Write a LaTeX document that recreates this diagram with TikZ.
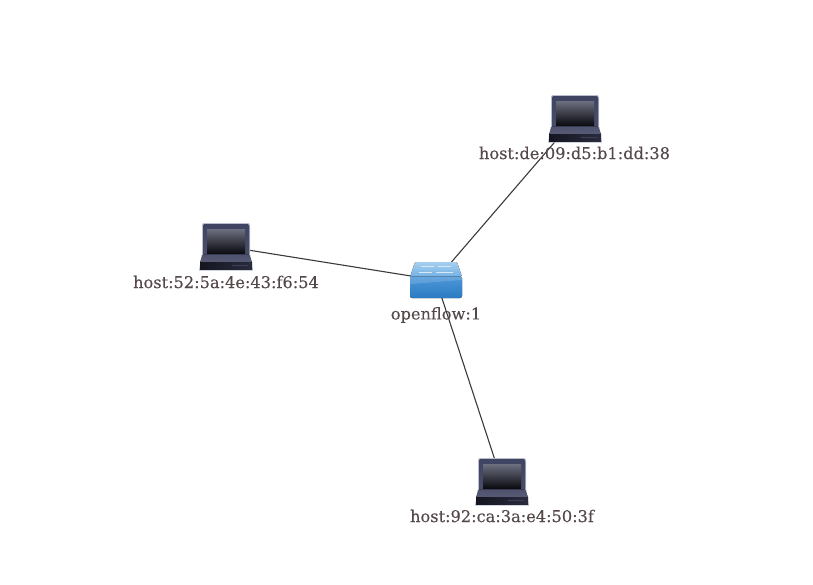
\documentclass[tikz,border=0pt]{standalone}
\usepackage{fontspec}
\setmainfont{DejaVu Serif}[FakeBold=0.15]
\usetikzlibrary{calc}
\definecolor{lbl}{HTML}{54484A}
\definecolor{edgec}{HTML}{3A3A3A}
\definecolor{scrA}{HTML}{3F4463}
\definecolor{scrB}{HTML}{4A4E68}
\definecolor{inA}{HTML}{6C6F7E}
\definecolor{inM}{HTML}{25262F}
\definecolor{inB}{HTML}{0C0C12}
\definecolor{baseA}{HTML}{50536E}
\definecolor{baseB}{HTML}{565A75}
\definecolor{feetA}{HTML}{14151F}
\definecolor{feetB}{HTML}{2A2C3F}
\definecolor{slot}{HTML}{3C3F55}
\definecolor{halo}{HTML}{B9BFD0}
\definecolor{topA}{HTML}{A6CFEF}
\definecolor{topB}{HTML}{74B0E2}
\definecolor{frA}{HTML}{4D97D8}
\definecolor{frB}{HTML}{2B7BC3}
\definecolor{arrowc}{HTML}{D5E9F8}
\tikzset{
  lab/.style={text=lbl,font=\fontsize{16.2}{18}\selectfont,inner sep=0pt,anchor=center},
  link/.style={draw=edgec,line width=1.1pt},
  pics/laptop/.style={code={
    \fill[rounded corners=2pt,halo] (-24,-23.5) rectangle (24,10);
    \fill[rounded corners=2.5pt,top color=scrA,bottom color=scrB] (-23,-22.5) rectangle (23,10);
    \fill[top color=inA,middle color=inM,bottom color=inB] (-19,-17.5) rectangle (19,6.5);
    \fill[halo] (-27,24) -- (27,24) -- (24.5,8.5) -- (-24.5,8.5) -- cycle;
    \fill[top color=baseA,bottom color=baseB] (-23,8) -- (23,8) -- (26,16) -- (-26,16) -- cycle;
    \fill[left color=feetA,right color=feetB] (-26,15.5) rectangle (26,23);
    \fill[slot] (6,18) rectangle (22,19.2);
  }},
  pics/switchicon/.style={code={
    \fill[rounded corners=1.5pt,top color=topA,bottom color=topB] (-21,-18) -- (21,-18) -- (26,-3) -- (-26,-3) -- cycle;
    \fill[rounded corners=2pt,top color=frA,bottom color=frB] (-26,-3.5) rectangle (26,18);
    \fill[white,opacity=.15] (-26,-3.5) -- (26,-3.5) -- (26,0) -- (-26,4) -- cycle;
    \draw[arrowc,line width=.9pt] (-15,-14) -- (-2,-14) (2,-14) -- (15,-14) (-17,-8) -- (-4,-8) (0,-8) -- (17,-8);
  }},
}
\begin{document}
\begin{tikzpicture}[x=1pt,y=-1pt]
\useasboundingbox (0,0) rectangle (813,584);
\coordinate (sw) at (436,280);
\coordinate (hosta) at (575,118.5);
\coordinate (hostb) at (226,246.5);
\coordinate (hostc) at (502,481.5);
\draw[link] (sw) -- (hosta);
\draw[link] (sw) -- (hostb);
\draw[link] (sw) -- (hostc);
\pic at (sw) {switchicon};
\pic at (hosta) {laptop};
\pic at (hostb) {laptop};
\pic at (hostc) {laptop};
\node[lab] (lsw) at (436,315) {openflow:1};
\node[lab] (la) at (574.5,153) {host:de:09:d5:b1:dd:38};
\node[lab] (lb) at (226,282) {host:52:5a:4e:43:f6:54};
\node[lab] (lc) at (502,516) {host:92:ca:3a:e4:50:3f};
\end{tikzpicture}
\end{document}
